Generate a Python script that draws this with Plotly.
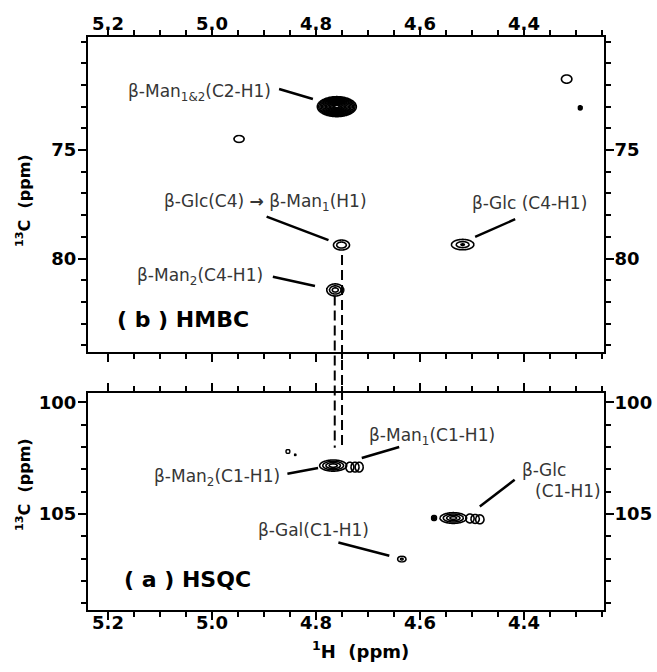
import numpy as np
import plotly.graph_objects as go

# ---------------- data ----------------
# HMBC cross peaks: 1H shift, 13C shift, half widths, number of contour rings, innermost ring (relative)
hmbc_h = [4.760, 4.948, 4.318, 4.292, 4.751, 4.763, 4.518]
hmbc_c = [73.00, 74.49, 71.73, 73.06, 79.38, 81.45, 79.36]
hmbc_hw = [0.0375, 0.0096, 0.0100, 0.0040, 0.0154, 0.0163, 0.0215]
hmbc_cw = [0.46, 0.16, 0.19, 0.10, 0.23, 0.28, 0.24]
hmbc_rings = [14, 1, 1, 3, 2, 3, 3]
hmbc_core = [0.12, 1.0, 1.0, 0.2, 0.6, 0.35, 0.15]

# HSQC cross peaks
hsqc_h = [4.767, 4.735, 4.725, 4.717, 4.854, 4.840, 4.573, 4.536, 4.504, 4.494, 4.485, 4.635]
hsqc_c = [102.83, 102.90, 102.90, 102.90, 102.20, 102.35, 105.18, 105.18, 105.20, 105.22, 105.24, 107.02]
hsqc_hw = [0.026, 0.0077, 0.0077, 0.0077, 0.004, 0.002, 0.005, 0.0256, 0.008, 0.008, 0.008, 0.008]
hsqc_cw = [0.25, 0.22, 0.22, 0.22, 0.09, 0.05, 0.12, 0.24, 0.20, 0.20, 0.20, 0.13]
hsqc_rings = [4, 1, 1, 1, 1, 2, 3, 4, 1, 1, 1, 2]
hsqc_core = [0.3, 1.0, 1.0, 1.0, 1.0, 0.3, 0.2, 0.25, 1.0, 1.0, 1.0, 0.3]

# axis ticks
h_ticks = [5.2, 5.0, 4.8, 4.6, 4.4]
hmbc_c_ticks = [75, 80]
hsqc_c_ticks = [100, 105]

# assignment labels (text, 1H, 13C, anchor)
hmbc_labels = ["β-Man<sub>1&amp;2</sub>(C2-H1)", "β-Glc(C4) <b>→</b> β-Man<sub>1</sub>(H1)",
               "β-Man<sub>2</sub>(C4-H1)", "β-Glc (C4-H1)"]
hmbc_label_h = [4.883, 4.898, 4.898, 4.390]
hmbc_label_c = [72.33, 77.40, 80.81, 77.46]
hmbc_label_anchor = ["right", "center", "right", "center"]

hsqc_labels = ["β-Man<sub>1</sub>(C1-H1)", "β-Man<sub>2</sub>(C1-H1)", "β-Glc", "(C1-H1)", "β-Gal(C1-H1)"]
hsqc_label_h = [4.577, 4.865, 4.408, 4.383, 4.804]
hsqc_label_c = [101.54, 103.38, 103.02, 103.99, 105.73]
hsqc_label_anchor = ["center", "right", "left", "left", "center"]

# leader lines: (H start, C start, H end, C end)
hmbc_leaders = [(4.871, 72.19, 4.806, 72.65), (4.895, 78.07, 4.776, 79.15),
                (4.883, 80.84, 4.802, 81.27), (4.417, 78.19, 4.494, 79.00)]
hsqc_leaders = [(4.712, 102.49, 4.640, 102.00), (4.855, 103.20, 4.796, 102.94),
                (4.418, 103.47, 4.485, 104.66), (4.757, 106.28, 4.659, 106.87)]

# correlation guide lines: 1H position, start in HMBC (13C), end in HSQC (13C)
guide_h = [4.750, 4.764]
guide_hmbc_c = [79.84, 81.70]
guide_hsqc_c = [102.03, 102.03]

panel_titles = ["( b ) HMBC", "( a ) HSQC"]
panel_title_pos = [(5.187, 82.83), (5.174, 107.95)]

# ---------------- layout geometry ----------------
W, H = 657, 672
ML, MR, MT, MB = 88, 53, 37, 62
X_RANGE = [5.2385, 4.2462]
TOP_RANGE = [84.31, 69.79]
BOT_RANGE = [109.30, 99.58]
plot_h = H - MT - MB
TOP_DOM = [(H - MB - 352) / plot_h, 1.0]
BOT_DOM = [0.0, (H - MB - 393) / plot_h]

TICK_FONT = dict(family="DejaVu Sans", size=18, color="black", weight="bold")
LABEL_FONT = dict(family="DejaVu Sans", size=17, color="#353535")


def peak_trace(h0, c0, hw, cw, n, core, xa, ya):
    gx = np.linspace(h0 - 1.3 * hw, h0 + 1.3 * hw, 71)
    gy = np.linspace(c0 - 1.3 * cw, c0 + 1.3 * cw, 71)
    X, Y = np.meshgrid(gx, gy)
    rho = np.sqrt(((X - h0) / hw) ** 2 + ((Y - c0) / cw) ** 2)
    z = 1.0 - rho
    if n <= 1:
        start, end, size = 0.0, 0.0, 1.0
    else:
        start, end, size = 0.0, 1.0 - core, (1.0 - core) / (n - 1)
    return go.Contour(
        x=gx, y=gy, z=z, autocontour=False,
        contours=dict(start=start, end=end + 1e-9, size=size, coloring="lines"),
        line=dict(width=1.6), colorscale=[[0, "black"], [1, "black"]],
        showscale=False, hoverinfo="skip", xaxis=xa, yaxis=ya,
    )


fig = go.Figure()
for i in range(len(hmbc_h)):
    fig.add_trace(peak_trace(hmbc_h[i], hmbc_c[i], hmbc_hw[i], hmbc_cw[i],
                             hmbc_rings[i], hmbc_core[i], "x", "y"))
for i in range(len(hsqc_h)):
    fig.add_trace(peak_trace(hsqc_h[i], hsqc_c[i], hsqc_hw[i], hsqc_cw[i],
                             hsqc_rings[i], hsqc_core[i], "x2", "y2"))
# invisible anchors for the right-hand mirrored axes
fig.add_trace(go.Scatter(x=[h_ticks[0]], y=[hmbc_c_ticks[0]], mode="markers",
                         marker=dict(opacity=0), hoverinfo="skip", showlegend=False,
                         xaxis="x", yaxis="y3"))
fig.add_trace(go.Scatter(x=[h_ticks[0]], y=[hsqc_c_ticks[0]], mode="markers",
                         marker=dict(opacity=0), hoverinfo="skip", showlegend=False,
                         xaxis="x2", yaxis="y4"))

minor_x = dict(ticks="outside", ticklen=5, tickwidth=1.5, tickcolor="black",
               tickmode="linear", tick0=0, dtick=0.05)
minor_y = dict(ticks="outside", ticklen=5, tickwidth=1.5, tickcolor="black",
               tickmode="linear", tick0=0, dtick=1)


def xcommon(standoff):
    return dict(range=X_RANGE, showline=True, linewidth=2, linecolor="black",
                mirror="ticks", ticks="outside", ticklen=8, tickwidth=1.5, tickcolor="black",
                tickmode="array", tickvals=h_ticks, ticktext=[f"{v:.1f}" for v in h_ticks],
                tickfont=TICK_FONT, showgrid=False, zeroline=False, minor=minor_x,
                automargin=False, ticklabelstandoff=standoff)


def ycommon(rng, vals, dom, side, standoff):
    return dict(range=rng, domain=dom, showline=True, linewidth=2, linecolor="black",
                ticks="outside", ticklen=8, tickwidth=1.5, tickcolor="black",
                tickmode="array", tickvals=vals, ticktext=[str(v) for v in vals],
                tickfont=TICK_FONT, showgrid=False, zeroline=False, minor=minor_y,
                side=side, ticklabelstandoff=standoff, automargin=False)


fig.update_layout(
    width=W, height=H, margin=dict(l=ML, r=MR, t=MT, b=MB, autoexpand=False),
    paper_bgcolor="white", plot_bgcolor="white", showlegend=False,
    xaxis=dict(xcommon(-10), anchor="y", side="top", domain=[0, 1]),
    xaxis2=dict(xcommon(-13), anchor="y2", side="bottom", domain=[0, 1]),
    yaxis=dict(ycommon(TOP_RANGE, hmbc_c_ticks, TOP_DOM, "left", -2), anchor="x"),
    yaxis2=dict(ycommon(BOT_RANGE, hsqc_c_ticks, BOT_DOM, "left", -2), anchor="x2"),
    yaxis3=dict(ycommon(TOP_RANGE, hmbc_c_ticks, TOP_DOM, "right", -3), anchor="x", overlaying="y"),
    yaxis4=dict(ycommon(BOT_RANGE, hsqc_c_ticks, BOT_DOM, "right", -3), anchor="x2", overlaying="y2"),
)

shapes = []
for (h0, c0, h1, c1) in hmbc_leaders:
    shapes.append(dict(type="line", xref="x", yref="y", x0=h0, y0=c0, x1=h1, y1=c1,
                       line=dict(color="black", width=2.5)))
for (h0, c0, h1, c1) in hsqc_leaders:
    shapes.append(dict(type="line", xref="x2", yref="y2", x0=h0, y0=c0, x1=h1, y1=c1,
                       line=dict(color="black", width=2.5)))


def to_paper(v, rng, dom):
    frac = (v - rng[0]) / (rng[1] - rng[0])
    return dom[0] + frac * (dom[1] - dom[0])


for hx, ct, cb in zip(guide_h, guide_hmbc_c, guide_hsqc_c):
    shapes.append(dict(type="line", xref="x", yref="paper", x0=hx, x1=hx,
                       y0=to_paper(ct, TOP_RANGE, TOP_DOM), y1=to_paper(cb, BOT_RANGE, BOT_DOM),
                       line=dict(color="black", width=2, dash="10px,5px")))
fig.update_layout(shapes=shapes)

ann = []
for t, hx, cy, a in zip(hmbc_labels, hmbc_label_h, hmbc_label_c, hmbc_label_anchor):
    ann.append(dict(text=t, x=hx, y=cy, xref="x", yref="y", xanchor=a, yanchor="middle",
                    showarrow=False, font=LABEL_FONT))
for t, hx, cy, a in zip(hsqc_labels, hsqc_label_h, hsqc_label_c, hsqc_label_anchor):
    ann.append(dict(text=t, x=hx, y=cy, xref="x2", yref="y2", xanchor=a, yanchor="middle",
                    showarrow=False, font=LABEL_FONT))
for t, (hx, cy), xr, yr in zip(panel_titles, panel_title_pos, ["x", "x2"], ["y", "y2"]):
    ann.append(dict(text=f"<b>{t}</b>", x=hx, y=cy, xref=xr, yref=yr, xanchor="left",
                    yanchor="middle", showarrow=False,
                    font=dict(family="DejaVu Sans", size=22, color="black")))

title_font = dict(family="DejaVu Sans", size=16, color="black")
ann.append(dict(text="<b><sup>13</sup>C  (ppm)</b>", textangle=-90, xref="paper", yref="paper",
                x=(23 - ML) / (W - ML - MR), y=(H - MB - 201) / plot_h,
                xanchor="center", yanchor="middle", showarrow=False, font=title_font))
ann.append(dict(text="<b><sup>13</sup>C  (ppm)</b>", textangle=-90, xref="paper", yref="paper",
                x=(23 - ML) / (W - ML - MR), y=(H - MB - 485) / plot_h,
                xanchor="center", yanchor="middle", showarrow=False, font=title_font))
ann.append(dict(text="<b><sup>1</sup>H  (ppm)</b>", xref="paper", yref="paper",
                x=(360 - ML) / (W - ML - MR), y=(H - MB - 650) / plot_h,
                xanchor="center", yanchor="middle", showarrow=False,
                font=dict(family="DejaVu Sans", size=18, color="black")))
fig.update_layout(annotations=ann)

fig.write_html("out.html", config={"displayModeBar": False},
               post_script="document.body.style.margin='0';document.body.style.overflow='hidden';")
